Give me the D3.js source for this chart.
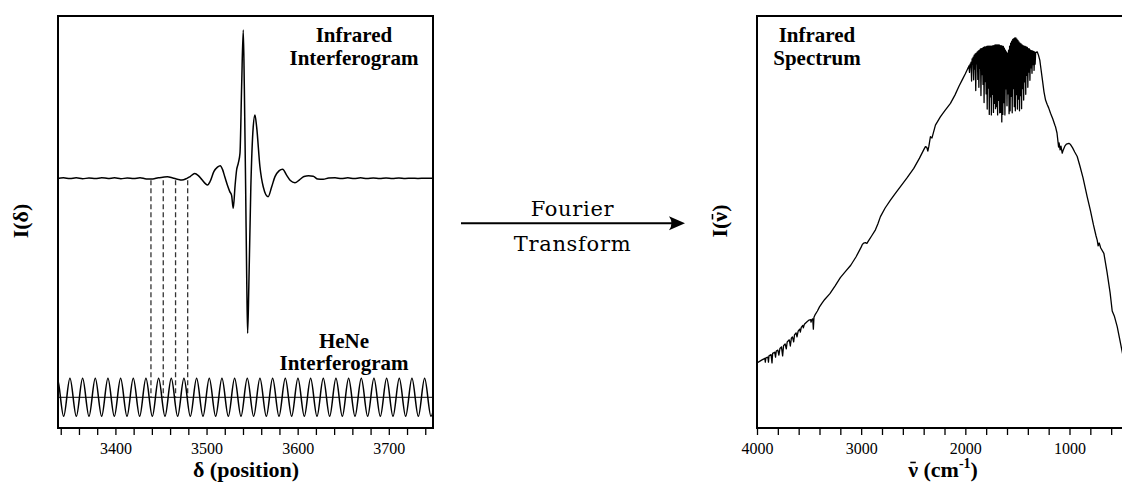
<!DOCTYPE html>
<html>
<head>
<meta charset="utf-8">
<script src="https://cdn.jsdelivr.net/npm/d3@7"></script>
<style>
  html, body { margin: 0; padding: 0; background: #fff; }
  svg { display: block; }
</style>
</head>
<body>
<svg id="fig" width="1122" height="486"></svg>
<script>
// ---------------- data ----------------

// Infrared interferogram: [optical path difference δ, relative intensity]
const irInterferogram = [
  [3329, 0.000], [3337, 0.000], [3343, 0.003], [3350, -0.002], [3357, 0.003], [3364, -0.003],
  [3371, 0.002], [3378, -0.002], [3385, 0.004], [3392, -0.001], [3399, 0.003],
  [3406, -0.003], [3413, 0.002], [3420, -0.002], [3427, 0.004], [3434, -0.004],
  [3441, -0.004], [3447, 0.004], [3452, 0.007], [3457, 0.010], [3463, 0.002],
  [3468, -0.006], [3473, -0.012], [3478, -0.002], [3482, 0.012], [3487, 0.032],
  [3491, 0.018], [3495, -0.010], [3499, -0.038], [3501, -0.045], [3504, -0.020],
  [3508, 0.045], [3512, 0.075], [3515, 0.085], [3517.5, 0.060], [3520, 0.011],
  [3523.5, -0.057], [3525.5, -0.090], [3527.5, -0.115], [3529.3, -0.202],
  [3531.3, -0.050], [3533, 0.056], [3534.8, 0.101], [3536.7, 0.170],
  [3538.5, 0.618], [3540.3, 1.000], [3541.5, 0.600], [3542.9, -0.060],
  [3544.2, -0.730], [3545.1, -1.045], [3546.4, -0.730], [3548.6, -0.060],
  [3551.2, 0.345], [3553.1, 0.427], [3555.0, 0.345], [3558.6, 0.078],
  [3562.2, -0.057], [3567.5, -0.124], [3571.5, -0.057], [3575.1, 0.011],
  [3579.5, 0.050], [3583.5, 0.061], [3588, 0.020], [3592, -0.015], [3597, -0.030],
  [3602, -0.010], [3607, 0.012], [3612, 0.017], [3617, 0.014], [3622, -0.005],
  [3628, -0.007], [3634, 0.002], [3641, 0.004], [3648, -0.002], [3655, 0.003],
  [3662, -0.002], [3669, 0.003], [3676, -0.001], [3683, 0.002], [3690, -0.002],
  [3697, 0.002], [3704, -0.001], [3711, 0.002], [3718, -0.001], [3725, 0.001],
  [3732, -0.001], [3740, 0.001], [3749, 0.000], [3756, 0.000]
];

// HeNe reference laser fringes: positions of maxima and minima (δ)
const heneCrests = [
  3336.2, 3350.1, 3364.0, 3377.9, 3391.8, 3405.7, 3419.6, 3433.5, 3447.4, 3461.3,
  3475.2, 3489.1, 3503.0, 3516.9, 3530.8, 3544.7, 3558.6, 3572.5, 3586.4, 3600.3,
  3614.2, 3628.1, 3642.0, 3655.9, 3669.8, 3683.7, 3697.6, 3711.5, 3725.4, 3739.3, 3753.2
];
const heneTroughs = [
  3329.3, 3343.2, 3357.1, 3371.0, 3384.9, 3398.8, 3412.7, 3426.6, 3440.5, 3454.4,
  3468.3, 3482.2, 3496.1, 3510.0, 3523.9, 3537.8, 3551.7, 3565.6, 3579.5, 3593.4,
  3607.3, 3621.2, 3635.1, 3649.0, 3662.9, 3676.8, 3690.7, 3704.6, 3718.5, 3732.4, 3746.3
];

// Sampling positions triggered by the HeNe fringes (δ)
const samplePositions = [3439, 3452.5, 3466, 3479.3];

// Single-beam infrared spectrum: [wavenumber (cm⁻¹), intensity (arb. units)]
const spectrumHigh = [
  [4000, 15.8], [3960, 16.4], [3925, 16.9], [3920, 16.0], [3915, 17.0], [3895, 17.2],
  [3890, 16.0], [3885, 17.5], [3865, 17.8], [3856, 15.8], [3850, 18.1], [3830, 18.4],
  [3822, 17.2], [3815, 18.7], [3800, 18.9], [3790, 17.7], [3780, 19.3], [3765, 19.7],
  [3754, 17.5], [3745, 20.0], [3730, 20.4], [3719, 19.2], [3710, 20.9], [3690, 21.4],
  [3680, 19.9], [3670, 21.8], [3660, 22.1], [3648, 20.9], [3640, 22.6], [3625, 23.1],
  [3616, 22.1], [3605, 23.5], [3590, 24.0], [3584, 23.3], [3575, 24.4], [3560, 24.9],
  [3555, 24.3], [3545, 25.2], [3520, 25.8], [3500, 26.2], [3485, 26.3], [3481, 25.7],
  [3475, 26.3], [3465, 26.5], [3459, 24.0], [3453, 26.9], [3440, 27.6], [3420, 28.4],
  [3400, 29.4], [3376, 30.3], [3350, 31.2], [3300, 32.6], [3250, 34.5], [3200, 36.5],
  [3150, 38.0], [3100, 39.5], [3050, 41.5], [3000, 43.9], [2990, 44.5], [2975, 44.9],
  [2960, 45.0], [2945, 44.8], [2930, 45.4], [2900, 46.6], [2863, 48.1], [2840, 49.5],
  [2815, 51.3], [2770, 53.4], [2719, 55.3], [2670, 57.0], [2623, 58.6], [2560, 60.7],
  [2495, 63.0], [2440, 65.5], [2400, 67.5], [2383, 68.3], [2370, 68.1], [2360, 67.2],
  [2350, 68.4], [2335, 70.7], [2320, 70.4], [2287, 73.5], [2240, 75.5], [2200, 76.9],
  [2143, 78.8], [2100, 80.8], [2060, 83.0], [2030, 84.5], [2000, 86.0], [1983, 86.9],
  [1970, 87.6]
];

// Water-vapour bending band region
const spectrumBand = [
  [1965, 87.9], [1960, 86.3], [1955, 88.3], [1950, 87.6], [1945, 88.8], [1940, 84.2],
  [1935, 89.6], [1930, 88.3], [1925, 90.0], [1920, 84.5], [1915, 90.5], [1910, 87.1],
  [1905, 90.8], [1900, 81.9], [1895, 91.0], [1890, 88.4], [1885, 91.3], [1880, 84.6],
  [1875, 91.5], [1870, 82.7], [1865, 91.7], [1860, 87.3], [1855, 92.0], [1850, 80.7],
  [1845, 92.1], [1840, 85.8], [1835, 92.2], [1830, 83.4], [1825, 92.4], [1820, 79.0],
  [1815, 92.5], [1810, 84.1], [1805, 92.5], [1800, 81.1], [1795, 92.6], [1790, 77.4],
  [1785, 92.7], [1780, 82.5], [1775, 92.7], [1770, 76.1], [1765, 92.7], [1760, 80.4],
  [1755, 92.7], [1750, 76.0], [1745, 92.7], [1740, 81.0], [1735, 92.8], [1730, 76.6],
  [1725, 92.8], [1720, 78.8], [1715, 93.0], [1710, 77.5], [1705, 93.0], [1700, 78.0],
  [1695, 93.0], [1690, 76.0], [1685, 93.0], [1680, 79.5], [1675, 93.0], [1670, 76.5],
  [1665, 92.8], [1660, 76.6], [1655, 92.8], [1650, 74.3], [1645, 92.7], [1640, 76.1],
  [1635, 92.6], [1630, 79.0], [1625, 92.2], [1620, 76.0], [1615, 91.7], [1610, 82.3],
  [1605, 91.3], [1600, 78.2], [1595, 91.0], [1590, 81.1], [1585, 91.7], [1580, 76.3],
  [1575, 92.7], [1570, 77.0], [1565, 93.4], [1560, 80.5], [1555, 93.9], [1550, 76.5],
  [1545, 94.3], [1540, 82.4], [1535, 94.5], [1530, 78.0], [1525, 94.7], [1520, 77.0],
  [1515, 94.7], [1510, 80.9], [1505, 94.4], [1500, 77.4], [1495, 94.1], [1490, 79.8],
  [1485, 93.7], [1480, 77.0], [1475, 93.4], [1470, 80.7], [1465, 93.2], [1460, 77.5],
  [1455, 93.0], [1450, 82.4], [1445, 92.8], [1440, 79.6], [1435, 92.7], [1430, 84.0],
  [1425, 92.6], [1420, 81.0], [1415, 92.5], [1410, 85.6], [1405, 92.4], [1400, 82.7],
  [1395, 92.1], [1390, 86.4], [1385, 92.0], [1380, 84.4], [1375, 91.7], [1370, 87.4],
  [1365, 91.6], [1360, 86.1], [1355, 91.5], [1350, 88.2], [1345, 91.4], [1340, 86.8],
  [1335, 91.3], [1330, 88.3], [1325, 91.1]
];

const spectrumLow = [
  [1310, 91.3], [1298, 90.5], [1285, 89.3], [1279, 88.1], [1260, 84.5], [1245, 81.6],
  [1230, 79.6], [1215, 78.6], [1200, 77.7], [1182, 76.4], [1160, 75.0], [1140, 73.5],
  [1134, 73.1], [1120, 71.6], [1110, 69.4], [1105, 68.2], [1100, 69.2], [1090, 67.5],
  [1082, 68.4], [1070, 66.7], [1060, 67.5], [1045, 68.4], [1030, 68.9], [1006, 69.1],
  [990, 68.8], [970, 68.0], [950, 67.0], [926, 65.9], [900, 63.6], [870, 60.7],
  [830, 56.1], [800, 52.9], [770, 49.3], [745, 46.6], [734, 45.6], [725, 44.2],
  [715, 44.9], [700, 43.7], [670, 42.4], [640, 37.9], [610, 32.8], [590, 28.4],
  [570, 27.2], [542, 24.6], [520, 21.8], [491, 18.1], [460, 14.1], [430, 10.4], [400, 6.8]
];

// Axis ticks
const deltaLabels = [3400, 3500, 3600, 3700];
const nuLabels = [4000, 3000, 2000, 1000];

// ---------------- layout ----------------
const svg = d3.select("#fig");
const serif = "Liberation Serif, Times New Roman, serif";

const L = { x0: 58, x1: 433, y0: 16, y1: 428 };
const R = { x0: 757, x1: 1132, y0: 16, y1: 428 };

const xDelta = d3.scaleLinear().domain([3337, 3748.5]).range([L.x0, L.x1]);
const yIR = d3.scaleLinear().domain([-1, 1]).range([326.6, 30]);
const yHeNe = d3.scaleLinear().domain([-1, 1]).range([416.3, 378.3]);

const xNu = d3.scaleLinear().domain([4000, 400]).range([R.x0, R.x1]);
const yI = d3.scaleLinear().domain([0, 100]).range([R.y1, R.y0]);

const defs = svg.append("defs");
defs.append("clipPath").attr("id", "clipL").append("rect")
  .attr("x", L.x0).attr("y", L.y0).attr("width", L.x1 - L.x0).attr("height", L.y1 - L.y0);
defs.append("clipPath").attr("id", "clipR").append("rect")
  .attr("x", R.x0).attr("y", R.y0).attr("width", R.x1 - R.x0).attr("height", R.y1 - R.y0);

// ---------------- left panel: interferograms ----------------
const gL = svg.append("g").attr("clip-path", "url(#clipL)");

// sampling markers
gL.selectAll("line.sample").data(samplePositions).join("line")
  .attr("class", "sample")
  .attr("x1", d => xDelta(d)).attr("x2", d => xDelta(d))
  .attr("y1", yIR(0) + 2).attr("y2", yHeNe(0))
  .attr("stroke", "#333").attr("stroke-width", 1.3)
  .attr("stroke-dasharray", "5,3");

// HeNe zero line
gL.append("line")
  .attr("x1", L.x0).attr("x2", L.x1)
  .attr("y1", yHeNe(0)).attr("y2", yHeNe(0))
  .attr("stroke", "#000").attr("stroke-width", 1);

// HeNe fringes
const heneExtrema = heneCrests.map(d => [d, 1])
  .concat(heneTroughs.map(d => [d, -1]))
  .sort((a, b) => a[0] - b[0]);
gL.append("path")
  .datum(heneExtrema)
  .attr("fill", "none").attr("stroke", "#000").attr("stroke-width", 1.5)
  .attr("d", d3.line().x(d => xDelta(d[0])).y(d => yHeNe(d[1])).curve(d3.curveMonotoneX));

// IR interferogram
gL.append("path")
  .datum(irInterferogram)
  .attr("fill", "none").attr("stroke", "#000").attr("stroke-width", 1.5)
  .attr("stroke-linejoin", "round")
  .attr("d", d3.line().x(d => xDelta(d[0])).y(d => yIR(d[1])).curve(d3.curveMonotoneX));

// frame
svg.append("rect")
  .attr("x", L.x0).attr("y", L.y0).attr("width", L.x1 - L.x0).attr("height", L.y1 - L.y0)
  .attr("fill", "none").attr("stroke", "#000").attr("stroke-width", 2);

// x axis
const axL = svg.append("g").attr("transform", `translate(0,${L.y1 + 1})`)
  .call(d3.axisBottom(xDelta)
    .tickValues(d3.range(3340, 3741, 20))
    .tickSize(6).tickSizeOuter(0).tickPadding(8)
    .tickFormat(d => deltaLabels.includes(d) ? d : ""));
axL.attr("font-family", serif).attr("font-size", 16);
axL.select(".domain").remove();
axL.selectAll(".tick line").attr("stroke", "#000").attr("stroke-width", 1.3);
axL.selectAll(".tick text").style("font-family", serif).style("font-size", "16px").attr("fill", "#000");

// labels
const bold = (g, x, y, txt, size) => g.append("text")
  .attr("x", x).attr("y", y).attr("text-anchor", "middle")
  .style("font-family", serif).attr("font-weight", "bold").style("font-size", size + "px")
  .attr("fill", "#000").text(txt);

bold(svg, 354, 42, "Infrared", 21);
bold(svg, 354, 65, "Interferogram", 21);
bold(svg, 344, 348, "HeNe", 21);
bold(svg, 344, 370, "Interferogram", 21);
bold(svg, 246, 477, "δ (position)", 22);

bold(svg.append("g").attr("transform", "translate(28,221) rotate(-90)"), 0, 0, "I(δ)", 22);

// ---------------- transform arrow ----------------
svg.append("line")
  .attr("x1", 461).attr("x2", 676).attr("y1", 223.3).attr("y2", 223.3)
  .attr("stroke", "#000").attr("stroke-width", 2);
svg.append("path")
  .attr("d", "M685,223.3 L669,216.3 Q674,223.3 669,230.3 Z")
  .attr("fill", "#000");

const tf = (y, txt) => svg.append("text")
  .attr("x", 572.5).attr("y", y).attr("text-anchor", "middle")
  .style("font-family", "DejaVu Serif, serif").style("font-size", "21px")
  .attr("letter-spacing", 0.7)
  .attr("fill", "#000").text(txt);
tf(216, "Fourier");
tf(251, "Transform");

// ---------------- right panel: spectrum ----------------
const gR = svg.append("g").attr("clip-path", "url(#clipR)");
const spectrum = spectrumHigh.concat(spectrumBand, spectrumLow);
gR.append("path")
  .datum(spectrum)
  .attr("fill", "none").attr("stroke", "#000").attr("stroke-width", 1.3)
  .attr("stroke-linejoin", "round")
  .attr("d", d3.line().x(d => xNu(d[0])).y(d => yI(d[1])));

svg.append("rect")
  .attr("x", R.x0).attr("y", R.y0).attr("width", R.x1 - R.x0).attr("height", R.y1 - R.y0)
  .attr("fill", "none").attr("stroke", "#000").attr("stroke-width", 2);

const axR = svg.append("g").attr("transform", `translate(0,${R.y1 + 1})`)
  .call(d3.axisBottom(xNu)
    .tickValues(d3.range(4000, 399, -200))
    .tickSize(6).tickSizeOuter(0).tickPadding(8)
    .tickFormat(d => nuLabels.includes(d) ? d : ""));
axR.attr("font-family", serif).attr("font-size", 16);
axR.select(".domain").remove();
axR.selectAll(".tick line").attr("stroke", "#000").attr("stroke-width", 1.3);
axR.selectAll(".tick text").style("font-family", serif).style("font-size", "16px").attr("fill", "#000");

bold(svg, 817, 42, "Infrared", 21);
bold(svg, 817, 65, "Spectrum", 21);

// wavenumber symbol: ν with an overbar drawn above the glyph
function nuBar(textSel, charIndex, size) {
  const ext = textSel.node().getExtentOfChar(charIndex);
  const parent = d3.select(textSel.node().parentNode);
  const y = +textSel.attr("y") - size * 0.66;
  parent.append("line")
    .attr("x1", ext.x + ext.width * 0.22).attr("x2", ext.x + ext.width * 0.78)
    .attr("y1", y).attr("y2", y)
    .attr("stroke", "#000").attr("stroke-width", 1.6);
}

const xt = svg.append("text")
  .attr("x", 943).attr("y", 477).attr("text-anchor", "middle")
  .style("font-family", serif).attr("font-weight", "bold").style("font-size", "22px");
xt.append("tspan").text("ν (cm");
xt.append("tspan").style("font-size", "14px").attr("dy", -9).text("-1");
xt.append("tspan").attr("dy", 9).text(")");
nuBar(xt, 0, 22);

const yt = bold(svg.append("g").attr("transform", "translate(727,221) rotate(-90)"), 0, 0, "I(ν)", 22);
nuBar(yt, 2, 22);
</script>
</body>
</html>
